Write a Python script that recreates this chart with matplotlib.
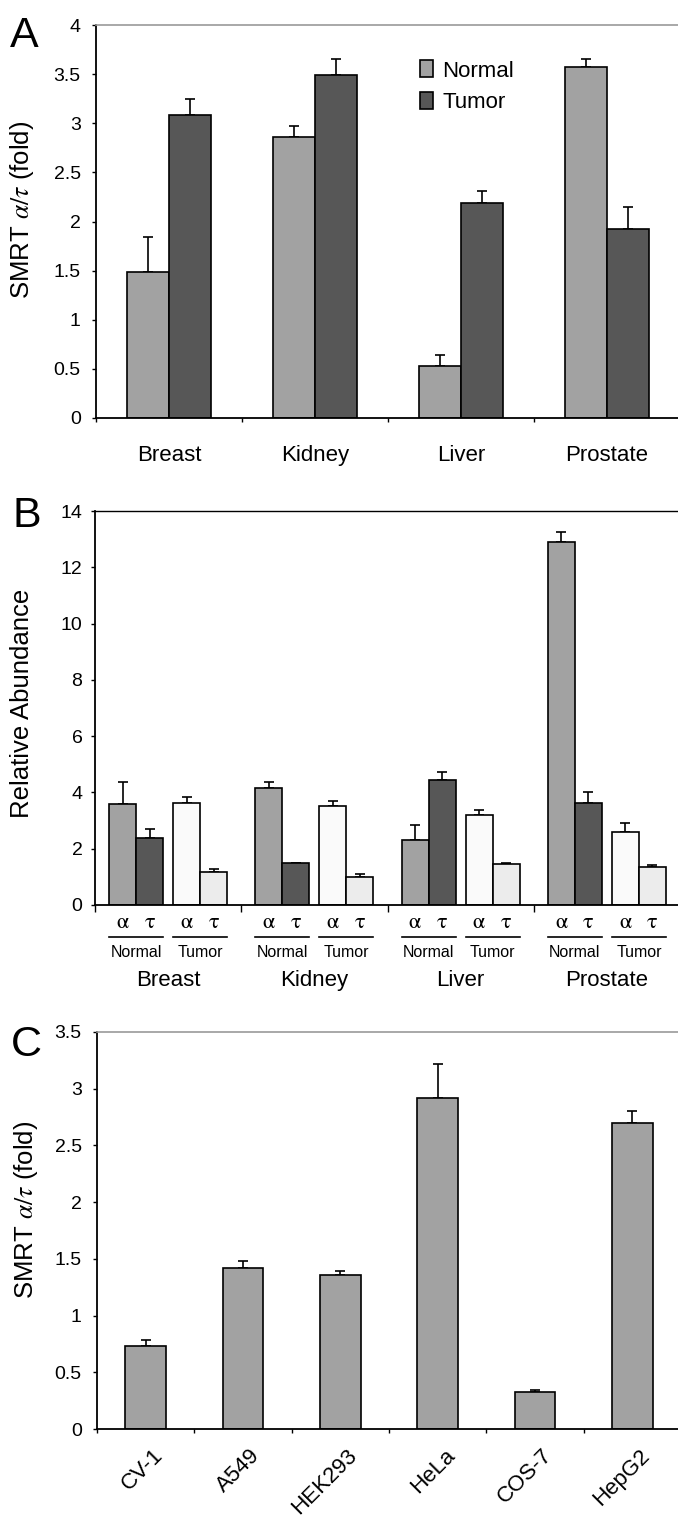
import matplotlib
matplotlib.use("Agg")
import matplotlib.pyplot as plt
import matplotlib.transforms as mtransforms
from matplotlib.ticker import FormatStrFormatter
import numpy as np

plt.rcParams['font.family'] = ['Liberation Sans', 'DejaVu Sans']
plt.rcParams['mathtext.fontset'] = 'stix'

# ---- data ----
tissues = ['Breast', 'Kidney', 'Liver', 'Prostate']

# panel A: SMRT alpha/tau ratio
a_normal = [1.49, 2.86, 0.53, 3.57]
a_normal_err = [0.35, 0.11, 0.11, 0.08]
a_tumor = [3.08, 3.49, 2.19, 1.92]
a_tumor_err = [0.17, 0.16, 0.12, 0.23]

# panel B: relative abundance
b_normal_alpha = [3.58, 4.17, 2.32, 12.91]
b_normal_alpha_err = [0.80, 0.21, 0.54, 0.33]
b_normal_tau = [2.37, 1.50, 4.44, 3.63]
b_normal_tau_err = [0.32, 0.0, 0.29, 0.38]
b_tumor_alpha = [3.63, 3.51, 3.19, 2.60]
b_tumor_alpha_err = [0.22, 0.18, 0.18, 0.32]
b_tumor_tau = [1.17, 1.00, 1.44, 1.34]
b_tumor_tau_err = [0.11, 0.11, 0.06, 0.09]

# panel C: cell lines
cell_lines = ['CV-1', 'A549', 'HEK293', 'HeLa', 'COS-7', 'HepG2']
c_ratio = [0.735, 1.418, 1.354, 2.92, 0.33, 2.70]
c_ratio_err = [0.05, 0.06, 0.035, 0.30, 0.01, 0.10]

GRAY = '#a2a2a2'
DARK = '#575757'
WHITE = '#fafafa'
LIGHT = '#ececec'
W, H = 678, 1516

fig = plt.figure(figsize=(W / 100, H / 100), dpi=100)


def px_axes(left, top, right, bottom):
    return fig.add_axes([left / W, 1 - bottom / H, (right - left) / W, (bottom - top) / H])


def style(ax, top_color, ylabel_pad=8, xtick_len=3):
    ax.spines['right'].set_visible(False)
    ax.spines['top'].set_color(top_color)
    ax.spines['top'].set_linewidth(1.2)
    ax.spines['left'].set_linewidth(1.3)
    ax.spines['bottom'].set_linewidth(1.3)
    ax.tick_params(axis='y', direction='out', length=3, width=1, labelsize=14, pad=ylabel_pad)
    ax.tick_params(axis='x', direction='out', length=xtick_len, width=1, labelbottom=False)
    ax.yaxis.set_major_formatter(FormatStrFormatter('%g'))


def one_sided(ax, x, y, err):
    ax.errorbar(x, y, yerr=[np.zeros(len(err)), err], fmt='none', ecolor='black',
                elinewidth=1.2, capsize=3.5, capthick=1.2, zorder=1)


bar_kw = dict(edgecolor='black', linewidth=1.2, zorder=2)

# ---------------- Panel A ----------------
axA = px_axes(96, 25, 680, 418)
x = np.arange(len(tissues))
one_sided(axA, x - 0.145, a_normal, a_normal_err)
one_sided(axA, x + 0.145, a_tumor, a_tumor_err)
axA.bar(x - 0.145, a_normal, 0.29, color=GRAY, label='Normal', **bar_kw)
axA.bar(x + 0.145, a_tumor, 0.29, color=DARK, label='Tumor', **bar_kw)
axA.set_xlim(-0.5, 3.5)
axA.set_ylim(0, 4)
axA.set_yticks(np.arange(0, 4.01, 0.5))
axA.set_xticks(np.arange(-0.5, 3.6, 1))
style(axA, '#999999')
for i, t in enumerate(tissues):
    axA.text(i, -0.109, t, transform=mtransforms.blended_transform_factory(axA.transData, axA.transAxes),
             ha='center', va='baseline', fontsize=16)
axA.legend(loc='upper left', bbox_to_anchor=(0.555, 0.91), frameon=False, fontsize=16,
           handlelength=0.6, handleheight=0.8, handletextpad=0.4, labelspacing=0.45,
           borderpad=0, borderaxespad=0)
fig.text(22 / W, 1 - 210 / H, r'SMRT $\alpha/\tau$ (fold)', rotation=90, ha='center', va='center', fontsize=18.5)
fig.text(10 / W, 1 - 47 / H, 'A', fontsize=31, ha='left', va='baseline')

# ---------------- Panel B ----------------
axB = px_axes(95, 511, 680, 905)
offs = [-0.311, -0.127, 0.127, 0.311]
bw = 0.185
series = [(b_normal_alpha, b_normal_alpha_err, GRAY), (b_normal_tau, b_normal_tau_err, DARK),
          (b_tumor_alpha, b_tumor_alpha_err, WHITE), (b_tumor_tau, b_tumor_tau_err, LIGHT)]
for off, (vals, errs, col) in zip(offs, series):
    one_sided(axB, x + off, vals, errs)
    axB.bar(x + off, vals, bw, color=col, **bar_kw)
axB.set_xlim(-0.5, 3.5)
axB.set_ylim(0, 14)
axB.set_yticks(np.arange(0, 15, 2))
axB.set_xticks(np.arange(-0.5, 3.6, 1))
style(axB, 'black', ylabel_pad=6, xtick_len=5)
axB.spines['top'].set_linewidth(1.0)
tB = mtransforms.blended_transform_factory(axB.transData, axB.transAxes)
for i, t in enumerate(tissues):
    for pair, name in ((offs[:2], 'Normal'), (offs[2:], 'Tumor')):
        axB.text(i + pair[0], -0.058, r'$\mathrm{\alpha}$', transform=tB, ha='center', va='baseline', fontsize=16)
        axB.text(i + pair[1], -0.058, r'$\mathrm{\tau}$', transform=tB, ha='center', va='baseline', fontsize=16)
        axB.plot([i + pair[0] - bw / 2, i + pair[1] + bw / 2], [-0.081, -0.081], transform=tB,
                 color='black', lw=1.2, clip_on=False)
        axB.text(i + (pair[0] + pair[1]) / 2, -0.132, name, transform=tB, ha='center', va='baseline', fontsize=11.5)
    axB.text(i, -0.206, t, transform=tB, ha='center', va='baseline', fontsize=16)
fig.text(22 / W, 1 - 703 / H, 'Relative Abundance', rotation=90, ha='center', va='center', fontsize=18.5)
fig.text(12 / W, 1 - 527 / H, 'B', fontsize=31, ha='left', va='baseline')

# ---------------- Panel C ----------------
axC = px_axes(97, 1032, 681, 1429)
xc = np.arange(len(cell_lines))
one_sided(axC, xc, c_ratio, c_ratio_err)
axC.bar(xc, c_ratio, 0.42, color=GRAY, **bar_kw)
axC.set_xlim(-0.5, 5.5)
axC.set_ylim(0, 3.5)
axC.set_yticks(np.arange(0, 3.51, 0.5))
axC.set_xticks(np.arange(-0.5, 5.6, 1))
style(axC, '#999999')
tC = mtransforms.blended_transform_factory(axC.transData, axC.transAxes)
for i, t in enumerate(cell_lines):
    axC.text(i + 0.22, -0.04, t, transform=tC, ha='right', va='top', rotation=45, fontsize=16)
fig.text(26 / W, 1 - 1210 / H, r'SMRT $\alpha/\tau$ (fold)', rotation=90, ha='center', va='center', fontsize=18.5)
fig.text(11 / W, 1 - 1056 / H, 'C', fontsize=31, ha='left', va='baseline')

fig.savefig('out.png', dpi=100)
